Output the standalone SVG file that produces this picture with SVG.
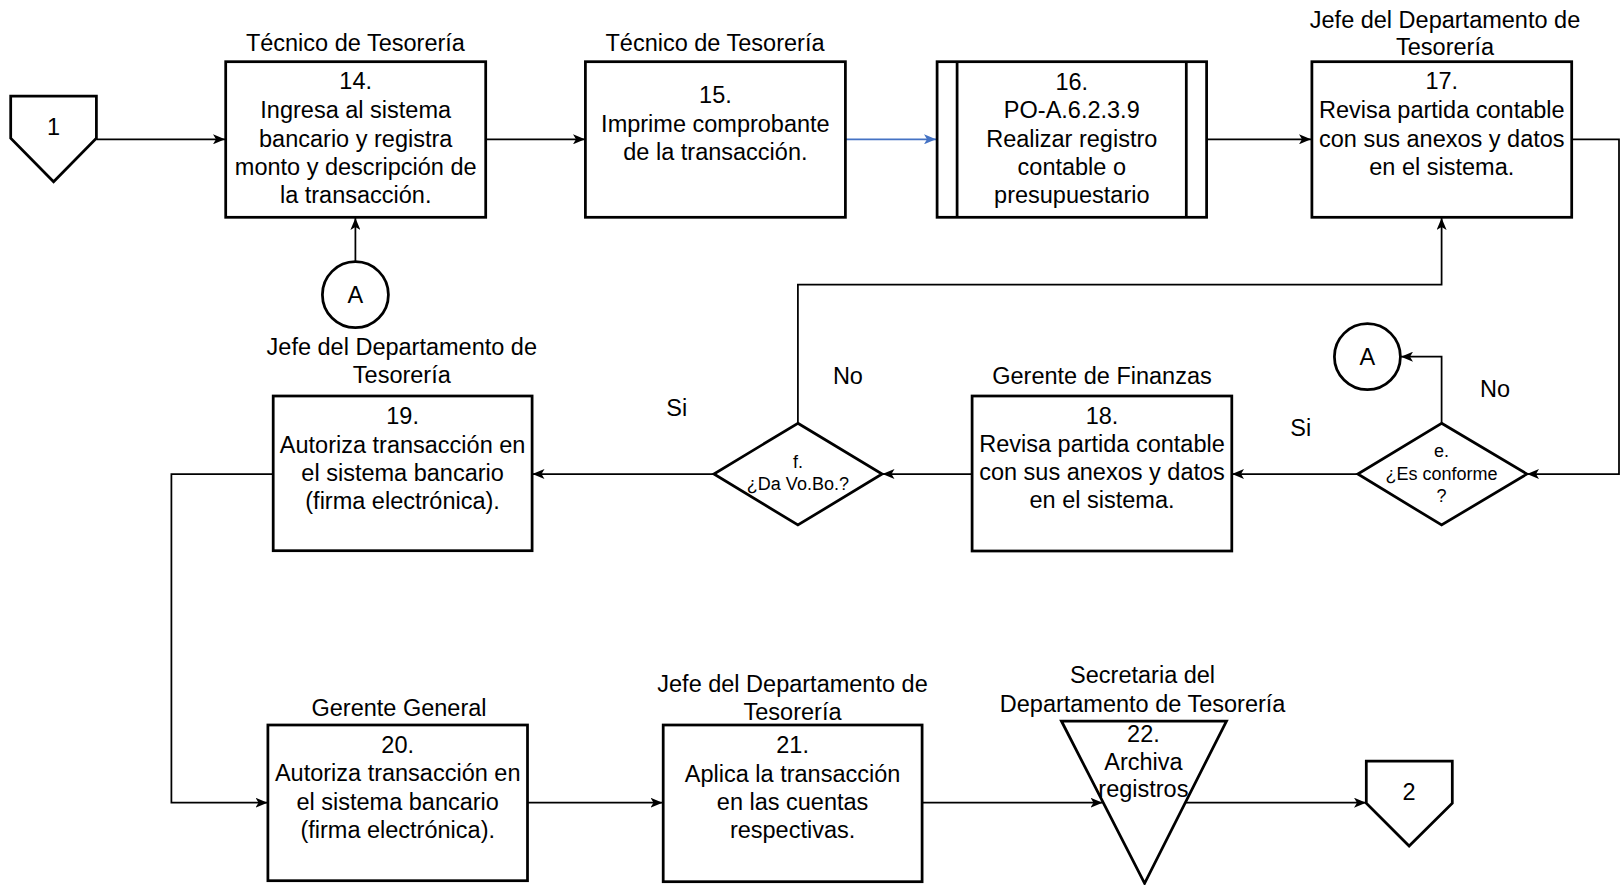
<svg xmlns="http://www.w3.org/2000/svg" width="1621" height="885" viewBox="0 0 1621 885">
<style>
.box{fill:#fff;stroke:#000;stroke-width:2.75;stroke-linejoin:miter}
.conn{fill:none;stroke:#000;stroke-width:1.75}
.blue{fill:none;stroke:#4472C4;stroke-width:1.75}
text{font-family:"Liberation Sans",Arial,sans-serif;font-size:23.5px;fill:#000;text-anchor:middle}
.sm{font-size:18px}
</style>
<defs>
<marker id="ah" viewBox="0 0 12 10" refX="12" refY="5" markerWidth="12" markerHeight="10" markerUnits="userSpaceOnUse" orient="auto"><path d="M0,0 L12,5 L0,10 L3,5 Z" fill="#000"/></marker>
<marker id="ahb" viewBox="0 0 12 10" refX="12" refY="5" markerWidth="12" markerHeight="10" markerUnits="userSpaceOnUse" orient="auto"><path d="M0,0 L12,5 L0,10 L3,5 Z" fill="#4472C4"/></marker>
</defs>
<rect width="1621" height="885" fill="#fff"/>
<g id="connectors">
<path class="conn" d="M96.4,139.3 H225" marker-end="url(#ah)"/>
<path class="conn" d="M485.7,139.3 H585" marker-end="url(#ah)"/>
<path class="blue" d="M845.4,139.3 H936" marker-end="url(#ahb)"/>
<path class="conn" d="M1206.6,139.3 H1311" marker-end="url(#ah)"/>
<path class="conn" d="M1571.7,139.3 H1619 V474 H1527" marker-end="url(#ah)"/>
<path class="conn" d="M1357.8,474 H1232" marker-end="url(#ah)"/>
<path class="conn" d="M1441.6,423.3 V356.7 H1401" marker-end="url(#ah)"/>
<path class="conn" d="M972.1,474 H882.5" marker-end="url(#ah)"/>
<path class="conn" d="M713.9,474 H532.5" marker-end="url(#ah)"/>
<path class="conn" d="M797.9,423.3 V284.5 H1441.6 V218" marker-end="url(#ah)"/>
<path class="conn" d="M355.4,261.7 V218" marker-end="url(#ah)"/>
<path class="conn" d="M273.2,474 H171.4 V802.7 H267.5" marker-end="url(#ah)"/>
<path class="conn" d="M527.5,802.7 H662.5" marker-end="url(#ah)"/>
<path class="conn" d="M922.1,802.7 H1102.5" marker-end="url(#ah)"/>
<path class="conn" d="M1186,802.7 H1366" marker-end="url(#ah)"/>
<text x="847.9" y="384">No</text>
<text x="676.8" y="415.7">Si</text>
<text x="1495" y="396.7">No</text>
<text x="1300.8" y="436">Si</text>
</g>
<g id="conector1">
<path class="box" d="M10.7,96 H96.4 V138.3 L53.6,181.7 L10.7,138.3 Z"/>
<text x="53.6" y="135">1</text>
</g>
<g id="n14">
<text x="355.4" y="50.7">Técnico de Tesorería</text>
<rect class="box" x="225.7" y="61.7" width="260" height="155.6"/>
<text x="355.7" y="89.3">14.</text>
<text x="355.7" y="118.3">Ingresa al sistema</text>
<text x="355.7" y="146.7">bancario y registra</text>
<text x="355.7" y="175">monto y descripción de</text>
<text x="355.7" y="203.3">la transacción.</text>
</g>
<g id="n15">
<text x="715" y="50.7">Técnico de Tesorería</text>
<rect class="box" x="585.4" y="61.7" width="260" height="155.6"/>
<text x="715.4" y="103.3">15.</text>
<text x="715.4" y="131.7">Imprime comprobante</text>
<text x="715.4" y="160">de la transacción.</text>
</g>
<g id="n16">
<rect class="box" x="937.1" y="61.7" width="269.5" height="155.6"/>
<line class="box" x1="957.1" y1="61.7" x2="957.1" y2="217.3"/>
<line class="box" x1="1186.3" y1="61.7" x2="1186.3" y2="217.3"/>
<text x="1071.8" y="90">16.</text>
<text x="1071.8" y="118.3">PO-A.6.2.3.9</text>
<text x="1071.8" y="146.7">Realizar registro</text>
<text x="1071.8" y="175">contable o</text>
<text x="1071.8" y="203.3">presupuestario</text>
</g>
<g id="n17">
<text x="1445" y="28.3">Jefe del Departamento de</text>
<text x="1445" y="55">Tesorería</text>
<rect class="box" x="1311.9" y="61.7" width="259.8" height="155.6"/>
<text x="1441.8" y="89.3">17.</text>
<text x="1441.8" y="118.3">Revisa partida contable</text>
<text x="1441.8" y="146.7">con sus anexos y datos</text>
<text x="1441.8" y="175">en el sistema.</text>
</g>
<g id="conectorA1">
<circle class="box" cx="355.4" cy="294.7" r="33"/>
<text x="355.4" y="303">A</text>
</g>
<g id="conectorA2">
<circle class="box" cx="1367.4" cy="356.7" r="33"/>
<text x="1367.4" y="365">A</text>
</g>
<g id="dec_e">
<path class="box" d="M1441.6,423.3 L1526.9,474 L1441.6,525 L1357.8,474 Z"/>
<text class="sm" x="1441.6" y="456.7">e.</text>
<text class="sm" x="1441.6" y="480">¿Es conforme</text>
<text class="sm" x="1441.6" y="501.7">?</text>
</g>
<g id="n18">
<text x="1102" y="384">Gerente de Finanzas</text>
<rect class="box" x="972.1" y="396" width="259.7" height="155"/>
<text x="1102" y="424">18.</text>
<text x="1102" y="451.7">Revisa partida contable</text>
<text x="1102" y="480">con sus anexos y datos</text>
<text x="1102" y="508.3">en el sistema.</text>
</g>
<g id="dec_f">
<path class="box" d="M797.9,423.3 L882.1,474 L797.9,525 L713.9,474 Z"/>
<text class="sm" x="797.9" y="468.3">f.</text>
<text class="sm" x="797.9" y="490">¿Da Vo.Bo.?</text>
</g>
<g id="n19">
<text x="401.8" y="355">Jefe del Departamento de</text>
<text x="401.8" y="383.3">Tesorería</text>
<rect class="box" x="273.2" y="396" width="258.9" height="154.7"/>
<text x="402.6" y="424">19.</text>
<text x="402.6" y="452.7">Autoriza transacción en</text>
<text x="402.6" y="481">el sistema bancario</text>
<text x="402.6" y="509.3">(firma electrónica).</text>
</g>
<g id="n20">
<text x="399" y="716">Gerente General</text>
<rect class="box" x="267.9" y="725" width="259.6" height="155.7"/>
<text x="397.7" y="752.7">20.</text>
<text x="397.7" y="781">Autoriza transacción en</text>
<text x="397.7" y="810">el sistema bancario</text>
<text x="397.7" y="838.3">(firma electrónica).</text>
</g>
<g id="n21">
<text x="792.5" y="691.7">Jefe del Departamento de</text>
<text x="792.5" y="720">Tesorería</text>
<rect class="box" x="663.2" y="725" width="258.9" height="156.7"/>
<text x="792.6" y="753.3">21.</text>
<text x="792.6" y="781.7">Aplica la transacción</text>
<text x="792.6" y="810">en las cuentas</text>
<text x="792.6" y="838.3">respectivas.</text>
</g>
<g id="n22">
<text x="1142.6" y="683.3">Secretaria del</text>
<text x="1142.6" y="711.7">Departamento de Tesorería</text>
<path class="box" d="M1061.4,721 H1226.5 L1144.6,883.3 Z"/>
<text x="1143.4" y="741.7">22.</text>
<text x="1143.4" y="770">Archiva</text>
<text x="1143.4" y="796.7">registros</text>
</g>
<g id="conector2">
<path class="box" d="M1366.3,761 H1452.3 V803.3 L1409.1,846 L1366.3,803.3 Z"/>
<text x="1409.1" y="800">2</text>
</g>
</svg>
